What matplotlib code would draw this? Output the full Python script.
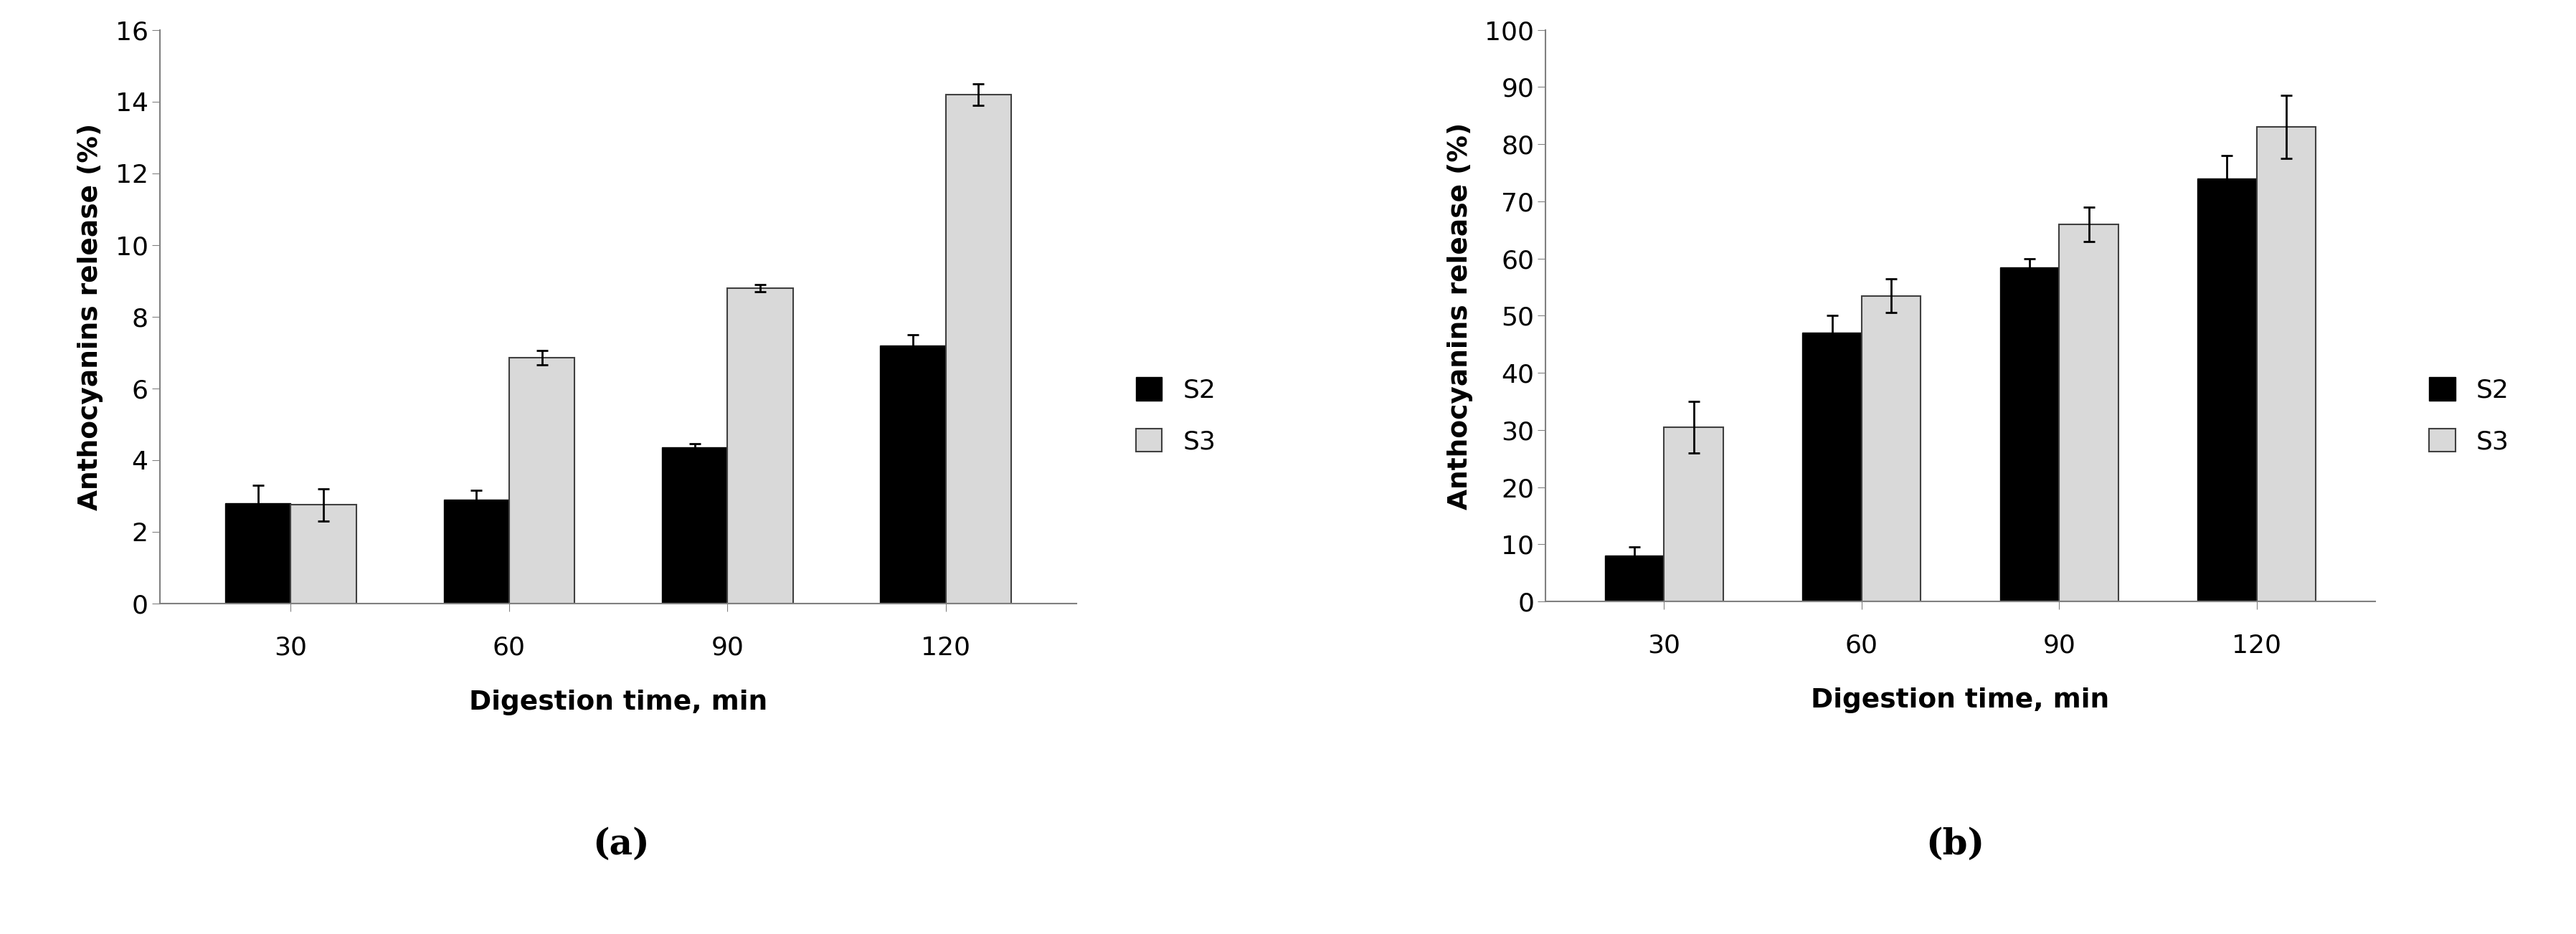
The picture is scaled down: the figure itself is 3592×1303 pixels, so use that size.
import matplotlib
matplotlib.use("Agg")
import numpy as np
import matplotlib.pyplot as plt

times = ["30", "60", "90", "120"]

# panel (a)
a_s2 = [2.8, 2.9, 4.35, 7.2]
a_s2_err = [0.5, 0.25, 0.1, 0.3]
a_s3 = [2.75, 6.85, 8.8, 14.2]
a_s3_err = [0.45, 0.2, 0.1, 0.3]

# panel (b)
b_s2 = [8, 47, 58.5, 74]
b_s2_err = [1.5, 3, 1.5, 4]
b_s3 = [30.5, 53.5, 66, 83]
b_s3_err = [4.5, 3, 3, 5.5]

fig = plt.figure(figsize=(35.92, 13.03), dpi=100)
ax1 = fig.add_axes([0.062, 0.354, 0.356, 0.614])
ax2 = fig.add_axes([0.600, 0.356, 0.322, 0.612])


def panel(ax, s2, e2, s3, e3, ymax, step, legx, label, labx):
    x = np.arange(len(times))
    w = 0.3
    ek = dict(ecolor="black", capsize=6, elinewidth=2, capthick=2)
    b1 = ax.bar(x - w / 2, s2, w, yerr=e2, color="black", edgecolor="black", error_kw=ek, label="S2")
    b2 = ax.bar(x + w / 2, s3, w, yerr=e3, color="#d9d9d9", edgecolor="#404040", linewidth=1.5, error_kw=ek, label="S3")
    ax.set_xlim(-0.6, len(times) - 0.4)
    ax.set_ylim(0, ymax)
    ax.set_yticks(np.arange(0, ymax + 1, step))
    ax.set_xticks(x)
    ax.set_xticklabels(times)
    ax.tick_params(labelsize=26, length=8, color="#808080")
    ax.tick_params(axis="x", pad=24)
    for s in ["top", "right"]:
        ax.spines[s].set_visible(False)
    for s in ["left", "bottom"]:
        ax.spines[s].set_color("#808080")
        ax.spines[s].set_linewidth(1.5)
    ax.set_ylabel("Anthocyanins release (%)", fontsize=27, fontweight="bold", labelpad=12)
    ax.set_xlabel("Digestion time, min", fontsize=27, fontweight="bold", labelpad=30)
    fig.legend(handles=[b1, b2], loc="center left", bbox_to_anchor=(legx, 0.555), frameon=False,
               fontsize=26, handlelength=1.0, handleheight=1.0, labelspacing=1.0)
    fig.text(labx, 0.085, label, fontsize=36, fontweight="bold", family="serif", ha="center")


panel(ax1, a_s2, a_s2_err, a_s3, a_s3_err, 16, 2, 0.432, "(a)", 0.241)
panel(ax2, b_s2, b_s2_err, b_s3, b_s3_err, 100, 10, 0.934, "(b)", 0.759)

fig.savefig("out.png", dpi=100)
